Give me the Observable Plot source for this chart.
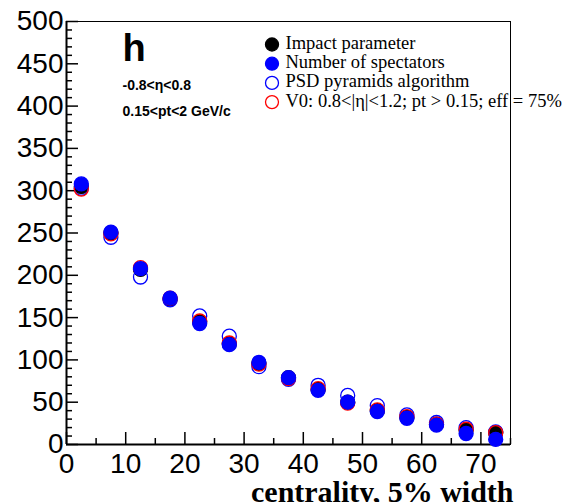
<!DOCTYPE html>
<html><head><meta charset="utf-8">
<script src="https://cdn.jsdelivr.net/npm/d3@7"></script>
<script src="https://cdn.jsdelivr.net/npm/@observablehq/plot@0.6"></script>
<style>body{margin:0;background:#fff}#chart{width:570px;height:502px}</style>
</head><body><div id="chart"></div>
<script>
// centrality bin centres (5% width)
const centrality = [2.5, 7.5, 12.5, 17.5, 22.5, 27.5, 32.5, 37.5, 42.5, 47.5, 52.5, 57.5, 62.5, 67.5, 72.5];
const impactParameter = [305, 250, 207, 172, 145, 119, 96, 79, 65, 50, 40, 32, 24, 17, 14];
const spectators      = [308, 251, 208, 173, 143, 118, 97, 79, 64, 50, 39, 31, 23, 13, 6];
const psdPyramids     = [303, 245, 198, 171, 152, 128, 92, 77, 70, 58, 46, 35, 26, 20, 15];
const v0              = [302, 249, 209, 173, 146, 120, 95, 78, 66, 49, 41, 33, 24, 18, 14];

const seriesNames = ["Impact parameter", "Number of spectators", "PSD pyramids algorithm", "V0: 0.8<|η|<1.2; pt > 0.15; eff = 75%"];
const xMajorTicks = [0, 10, 20, 30, 40, 50, 60, 70];
const xMinorTicks = [5, 15, 25, 35, 45, 55, 65, 75];
const yMajorTicks = [0, 50, 100, 150, 200, 250, 300, 350, 400, 450, 500];
const yMinorTicks = d3.range(0, 501, 10).filter(v => v % 50 !== 0);
const xTitle = "centrality, 5% width";
const panelLabel = "h";
const cutLabels = ["-0.8<η<0.8", "0.15<pt<2 GeV/c"];

const styles = [
  {fill: "black", stroke: "black"},
  {fill: "#0000ff", stroke: "#0000ff"},
  {fill: "none", stroke: "#0000ff"},
  {fill: "none", stroke: "#ff0000"}
];
const seriesValues = [impactParameter, spectators, psdPyramids, v0];
const drawOrder = [0, 2, 3, 1];

const sans = "'Liberation Sans', Arial, Helvetica, sans-serif";
const serif = "'Liberation Serif', 'Times New Roman', serif";

const marks = [
  Plot.frame({stroke: "black", strokeWidth: 1}),
  Plot.ruleX([0], {strokeWidth: 2}),
  Plot.ruleY([0], {strokeWidth: 2}),
  Plot.axisX({ticks: xMajorTicks, tickSize: -12, tickFormat: () => "", strokeWidth: 1.5}),
  Plot.axisX({ticks: xMinorTicks, tickSize: -6, tickFormat: () => "", strokeWidth: 1.5}),
  Plot.axisY({ticks: yMajorTicks, tickSize: -12, tickFormat: () => "", strokeWidth: 1.5}),
  Plot.axisY({ticks: yMinorTicks, tickSize: -6, tickFormat: () => "", strokeWidth: 1.5}),
  Plot.axisX({ticks: xMajorTicks, tickSize: 0, tickPadding: 9, fontSize: 28, fontFamily: sans, label: null}),
  Plot.axisY({ticks: yMajorTicks, tickSize: 0, tickPadding: 3, fontSize: 28, fontFamily: sans, label: null}),
  Plot.text([xTitle], {frameAnchor: "bottom-right", textAnchor: "end", lineAnchor: "bottom", dx: 3, dy: 57, fontSize: 30, fontWeight: "bold", fontFamily: serif}),
  Plot.text([panelLabel], {frameAnchor: "top-left", textAnchor: "start", lineAnchor: "top", dx: 56, dy: 13, fontSize: 38, fontWeight: "bold", fontFamily: sans}),
  Plot.text([cutLabels[0]], {frameAnchor: "top-left", textAnchor: "start", lineAnchor: "top", dx: 56, dy: 59, fontSize: 14, fontWeight: "bold", fontFamily: sans}),
  Plot.text([cutLabels[1]], {frameAnchor: "top-left", textAnchor: "start", lineAnchor: "top", dx: 56, dy: 85, fontSize: 14, fontWeight: "bold", fontFamily: sans})
];

for (const i of drawOrder) {
  const vals = seriesValues[i];
  marks.push(Plot.dot(centrality, {x: d => d, y: (d, j) => vals[j], r: 7, fill: styles[i].fill, stroke: styles[i].stroke, strokeWidth: 1.3}));
}

seriesNames.forEach((name, i) => {
  const rowY = 23 + i * 19.2;
  marks.push(Plot.dot([name], {frameAnchor: "top-left", dx: 205.5, dy: rowY, r: 6.5, fill: styles[i].fill, stroke: styles[i].stroke, strokeWidth: 1.3}));
  marks.push(Plot.text([name], {frameAnchor: "top-left", textAnchor: "start", lineAnchor: "middle", dx: 219, dy: rowY - 1.5, fontSize: 18.5, fontFamily: serif, fill: "black"}));
});

const chart = Plot.plot({
  width: 570,
  height: 502,
  marginLeft: 66,
  marginRight: 60,
  marginTop: 21,
  marginBottom: 58,
  x: {domain: [0, 75]},
  y: {domain: [0, 500]},
  style: {background: "white", color: "black", fontFamily: sans, overflow: "visible"},
  marks
});
document.getElementById("chart").appendChild(chart);
</script>
</body></html>
